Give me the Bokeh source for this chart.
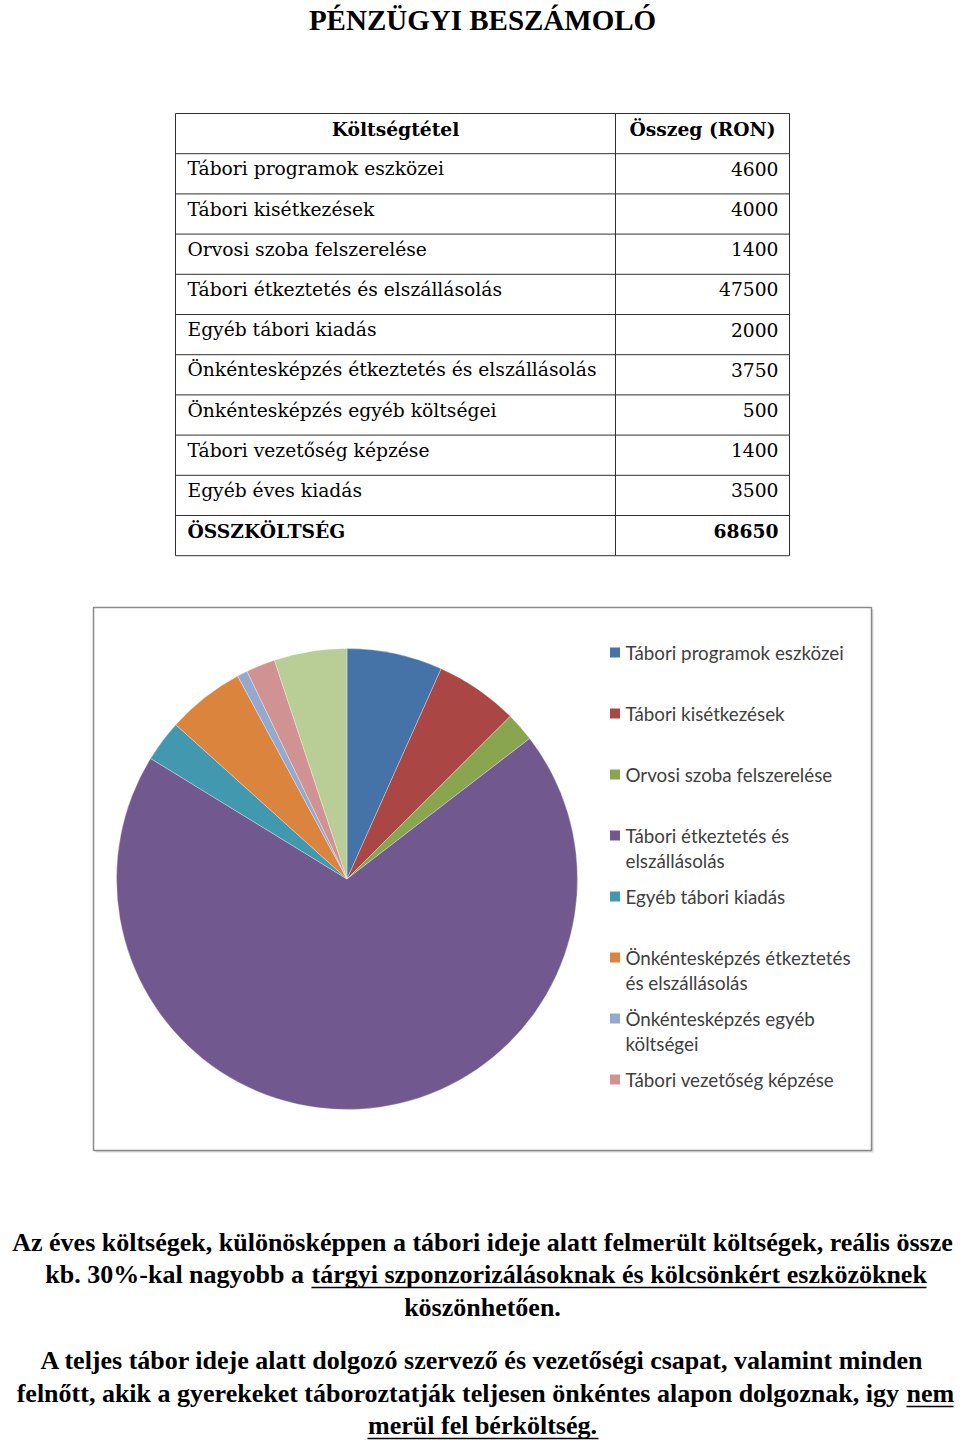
import numpy as np
from bokeh.plotting import figure
from bokeh.models import Range1d, ColumnDataSource
from bokeh.core.properties import value
from bokeh.embed import file_html
from bokeh.resources import INLINE

# ---------------- data ----------------
title = "PÉNZÜGYI BESZÁMOLÓ"
header = ["Költségtétel", "Összeg (RON)"]
categories = [
    "Tábori programok eszközei",
    "Tábori kisétkezések",
    "Orvosi szoba felszerelése",
    "Tábori étkeztetés és elszállásolás",
    "Egyéb tábori kiadás",
    "Önkéntesképzés étkeztetés és elszállásolás",
    "Önkéntesképzés egyéb költségei",
    "Tábori vezetőség képzése",
    "Egyéb éves kiadás",
]
amounts = [4600, 4000, 1400, 47500, 2000, 3750, 500, 1400, 3500]
total_label = "ÖSSZKÖLTSÉG"
total_amount = 68650
colors = ["#4572A7", "#AA4643", "#89A54E", "#71588F", "#4198AF",
          "#DB843D", "#93A9CF", "#D19392", "#B9CD96"]
legend_labels = [
    "Tábori programok eszközei",
    "Tábori kisétkezések",
    "Orvosi szoba felszerelése",
    "Tábori étkeztetés és\nelszállásolás",
    "Egyéb tábori kiadás",
    "Önkéntesképzés étkeztetés\nés elszállásolás",
    "Önkéntesképzés egyéb\nköltségei",
    "Tábori vezetőség képzése",
]
para_lines = [
    ("Az éves költségek, különösképpen a tábori ideje alatt felmerült költségek, reális össze", ""),
    ("kb. 30%-kal nagyobb a ", "tárgyi szponzorizálásoknak és kölcsönkért eszközöknek"),
    ("köszönhetően.", ""),
    ("A teljes tábor ideje alatt dolgozó szervező és vezetőségi csapat, valamint minden", ""),
    ("felnőtt, akik a gyerekeket táboroztatják teljesen önkéntes alapon dolgoznak, igy ", "nem"),
    ("", "merül fel bérköltség."),
]

# ---------------- layout ----------------
W, H = 960, 1442
def Y(py):
    return H - np.asarray(py, dtype=float)

p = figure(width=W, height=H, x_range=Range1d(0, W), y_range=Range1d(0, H),
           x_axis_type=None, y_axis_type=None, toolbar_location=None,
           output_backend="svg", min_border=0, outline_line_color=None)
p.grid.visible = False
p.background_fill_color = "white"
p.border_fill_color = "white"

SERIF = value("Liberation Serif")
TSERIF = value("DejaVu Serif")
SANS = value("Lato")

# title
p.text(x=[482], y=Y([19]), text=[title], text_font=SERIF, text_font_style="bold",
       text_font_size="29px", text_align="center", text_baseline="middle", text_color="black")

# ---------------- table ----------------
tx0, tx1, tx2 = 175, 615, 789
ty0, row_h = 113, 40.2
nrows = len(categories) + 2
ys = ty0 + np.arange(nrows + 1) * row_h
p.segment(x0=[tx0] * len(ys), y0=Y(ys), x1=[tx2] * len(ys), y1=Y(ys),
          line_color="#303030", line_width=1)
p.segment(x0=[tx0, tx1, tx2], y0=Y([ys[0]] * 3), x1=[tx0, tx1, tx2], y1=Y([ys[-1]] * 3),
          line_color="#303030", line_width=1)
rc = (ys[:-1] + ys[1:]) / 2 - 5
TF = "18.7px"
p.text(x=[(tx0 + tx1) / 2, (tx1 + tx2) / 2], y=Y(rc[:1].repeat(2)), text=header,
       text_font=TSERIF, text_font_style="bold", text_font_size=TF,
       text_align="center", text_baseline="middle")
p.text(x=[187] * len(categories), y=Y(rc[1:1 + len(categories)]), text=categories,
       text_font=TSERIF, text_font_size=TF, text_align="left", text_baseline="middle")
p.text(x=[778] * len(amounts), y=Y(rc[1:1 + len(amounts)]), text=[str(a) for a in amounts],
       text_font=TSERIF, text_font_size=TF, text_align="right", text_baseline="middle")
p.text(x=[187], y=Y(rc[-1:]), text=[total_label], text_font=TSERIF, text_font_style="bold",
       text_font_size=TF, text_align="left", text_baseline="middle")
p.text(x=[778], y=Y(rc[-1:]), text=[str(total_amount)], text_font=TSERIF, text_font_style="bold",
       text_font_size=TF, text_align="right", text_baseline="middle")

# ---------------- chart box ----------------
p.quad(left=[95], right=[873], top=Y([609]), bottom=Y([1152]), fill_color="#d8d8d8",
       line_color=None)
p.quad(left=[93], right=[871], top=Y([607]), bottom=Y([1150]), fill_color="white",
       line_color="#8a8a8a", line_width=1.5)

# pie
vals = np.array(amounts, dtype=float)
frac = vals / vals.sum()
cum = np.concatenate([[0], np.cumsum(frac)]) * 2 * np.pi
src = ColumnDataSource(dict(start=np.pi / 2 - cum[1:], end=np.pi / 2 - cum[:-1],
                            color=colors, cat=categories, amt=amounts))
cx, cy, r = 346.5, 878.5, 230.5
p.wedge(x=cx, y=float(Y(cy)), radius=r, radius_units="data", start_angle="start",
        end_angle="end", fill_color="color", line_color="white", line_width=0.6,
        line_alpha=0.5, source=src)

# legend
n_leg = len(legend_labels)
ly = 652 + np.arange(n_leg) * 61.0
p.rect(x=[614.5] * n_leg, y=Y(ly), width=10, height=10, fill_color=colors[:n_leg],
       line_color=None)
p.text(x=[625] * n_leg, y=Y(ly - 12), text=legend_labels, text_font=SANS,
       text_font_size="18.8px", text_align="left", text_baseline="top",
       text_line_height=1.13, text_color="#404040")

# ---------------- paragraphs ----------------
PF = "26px"
line_y = [1242, 1274, 1307, 1360, 1393, 1425]
for i in [0, 2, 3]:
    p.text(x=[482], y=Y([line_y[i]]), text=[para_lines[i][0]], text_font=SERIF,
           text_font_style="bold", text_font_size=PF, text_align="center",
           text_baseline="middle")
splits = {1: (311, 926), 4: (906, 953)}
for i, (sx, ex) in splits.items():
    p.text(x=[sx - 1], y=Y([line_y[i]]), text=[para_lines[i][0].rstrip() + " "], text_font=SERIF,
           text_font_style="bold", text_font_size=PF, text_align="right", text_baseline="middle")
    p.text(x=[sx], y=Y([line_y[i]]), text=[para_lines[i][1]], text_font=SERIF,
           text_font_style="bold", text_font_size=PF, text_align="left", text_baseline="middle")
    p.segment(x0=[sx], x1=[ex], y0=Y([line_y[i] + 13]), y1=Y([line_y[i] + 13]),
              line_color="black", line_width=1.5)
p.text(x=[482], y=Y([line_y[5]]), text=[para_lines[5][1]], text_font=SERIF,
       text_font_style="bold", text_font_size=PF, text_align="center", text_baseline="middle")
p.segment(x0=[367], x1=[598], y0=Y([line_y[5] + 13]), y1=Y([line_y[5] + 13]),
          line_color="black", line_width=1.5)

open("out.html", "w").write(file_html(p, INLINE))
